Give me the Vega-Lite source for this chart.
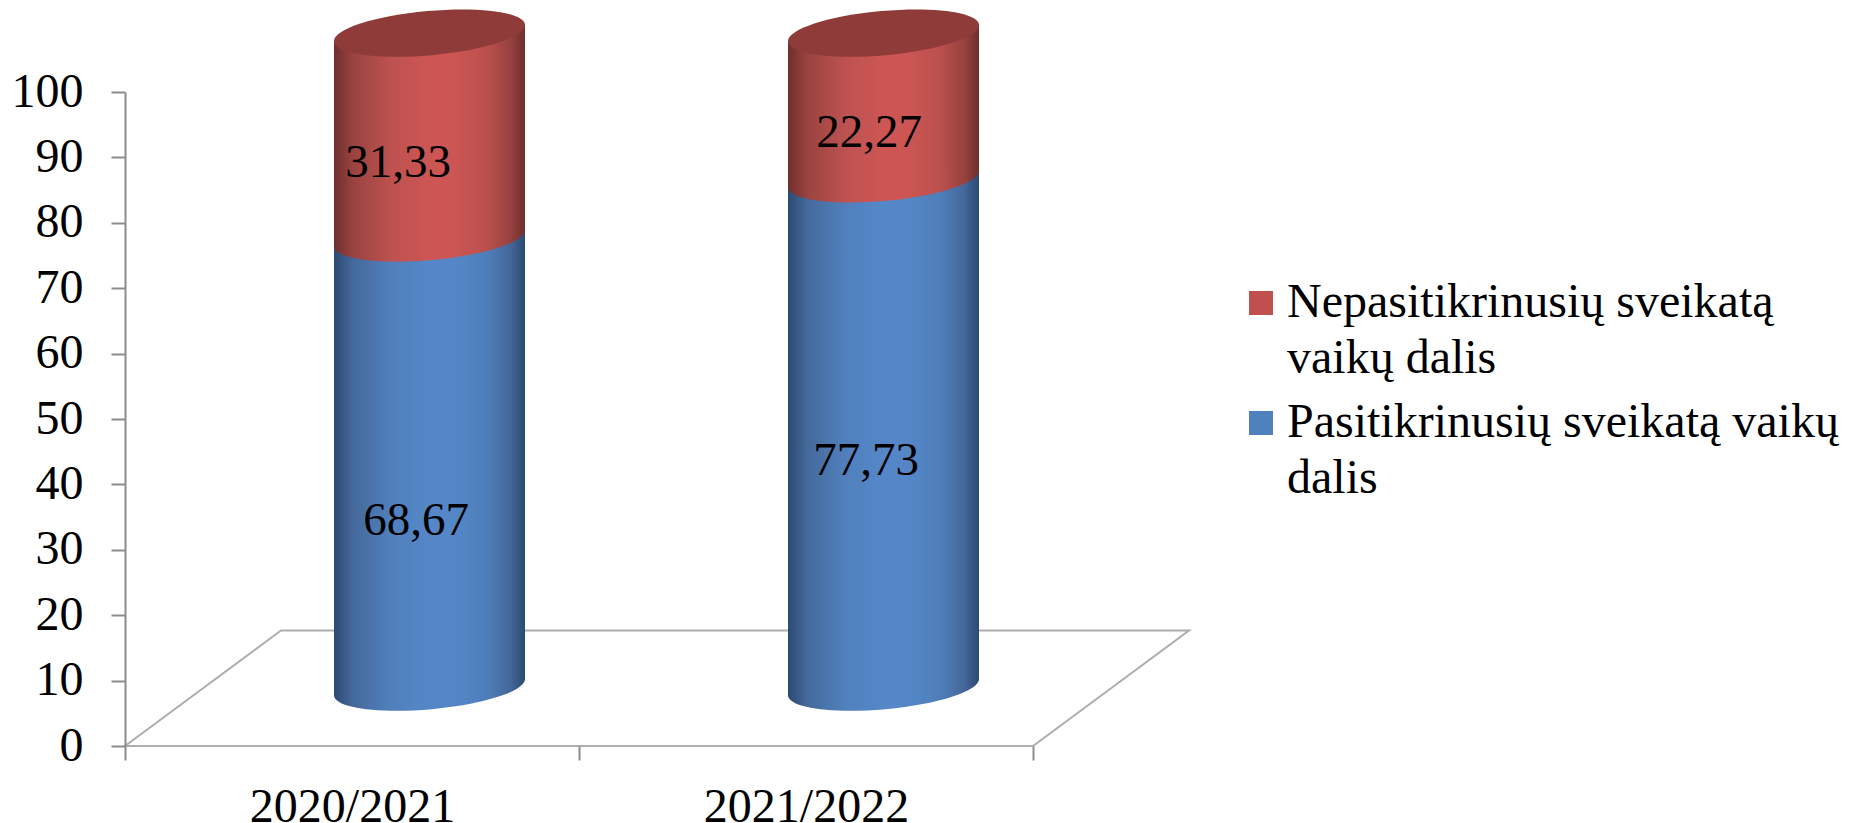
{
"$schema":"https://vega.github.io/schema/vega-lite/v6.json",
"width":908,"height":654,
"autosize":{"type":"none"},
"padding":{"left":125,"top":92,"right":816,"bottom":77},
"background":"white",
"data":{"values":[
{"year":"2020/2021","series":"Pasitikrinusių sveikatą vaikų dalis","order":1,"value":68.67,"label":"68,67"},
{"year":"2020/2021","series":"Nepasitikrinusių sveikatą vaikų dalis","order":2,"value":31.33,"label":"31,33"},
{"year":"2021/2022","series":"Pasitikrinusių sveikatą vaikų dalis","order":1,"value":77.73,"label":"77,73"},
{"year":"2021/2022","series":"Nepasitikrinusių sveikatą vaikų dalis","order":2,"value":22.27,"label":"22,27"}
]},
"transform":[{"stack":"value","groupby":["year"],"sort":[{"field":"order","order":"ascending"}],"as":["v0","v1"]}],
"config":{"view":{"stroke":null},"font":"Liberation Serif","style":{"guide-label":{"lineHeight":56}}},
"encoding":{"x":{"field":"year","type":"nominal","sort":null,"scale":{"paddingInner":0,"paddingOuter":0},
 "axis":{"title":null,"labelAngle":0,"labelFont":"Liberation Serif","labelFontSize":48,"labelColor":"#000000","labelPadding":23,"labelLimit":500,"domain":false,"ticks":true,"tickBand":"extent","tickColor":"#8c8c8c","tickWidth":2,"tickSize":14,"grid":false}}},
"layer":[
{"mark":{"type":"point","filled":false,"stroke":"#8c8c8c","strokeWidth":2,"size":40000,"shape":"M-2.27,0 L-0.71,-1.155 L8.37,-1.155 L6.81,0 Z"},
 "transform":[{"filter":"datum.year==='2020/2021' && datum.order===1"}],
 "encoding":{"y":{"datum":0,"type":"quantitative","scale":{"domain":[0,100]},
  "axis":{"title":null,"values":[0,10,20,30,40,50,60,70,80,90,100],"labelFont":"Liberation Serif","labelFontSize":48,"labelColor":"#000000","labelPadding":28,"domainColor":"#8c8c8c","domainWidth":2,"tickColor":"#8c8c8c","tickWidth":2,"tickSize":14,"grid":false}}}},
{"layer":[
 {"transform":[{"filter":"datum.order===1"}],"mark":{"type":"point","filled":true,"opacity":1,"size":36481,"xOffset":77.5,"shape":"M-1,-0.11 L1,-0.11 L1,-0.09 A1.004,0.232 -5.1 0 1 -1,0.09 Z","fill":{"x1":0,"x2":1,"y1":0,"y2":0,"gradient":"linear","stops":[{"offset":0,"color":"#2c4a72"},{"offset":0.1,"color":"#45699b"},{"offset":0.3,"color":"#5080bc"},{"offset":0.5,"color":"#5587c8"},{"offset":0.62,"color":"#5587c8"},{"offset":0.8,"color":"#4e7eb9"},{"offset":0.92,"color":"#44689a"},{"offset":1,"color":"#2c4a72"}]}},
  "encoding":{"y":{"field":"v0","type":"quantitative","scale":{"domain":[-9,91]},"axis":null}}},
 {"transform":[{"filter":"datum.order===1"}],"mark":{"type":"bar","width":191,"xOffset":77.5,"yOffset":-8.5,"y2Offset":-8.5,"fill":{"x1":0,"x2":1,"y1":0,"y2":0,"gradient":"linear","stops":[{"offset":0,"color":"#2c4a72"},{"offset":0.1,"color":"#45699b"},{"offset":0.3,"color":"#5080bc"},{"offset":0.5,"color":"#5587c8"},{"offset":0.62,"color":"#5587c8"},{"offset":0.8,"color":"#4e7eb9"},{"offset":0.92,"color":"#44689a"},{"offset":1,"color":"#2c4a72"}]}},
  "encoding":{"y":{"field":"v1","type":"quantitative","scale":{"domain":[-9,91]},"axis":null},"y2":{"field":"v0"}}},
 {"transform":[{"filter":"datum.order===2"}],"mark":{"type":"bar","width":191,"xOffset":77.5,"yOffset":8.5,"y2Offset":-8.5,"fill":{"x1":0,"x2":1,"y1":0,"y2":0,"gradient":"linear","stops":[{"offset":0,"color":"#6e2f2d"},{"offset":0.1,"color":"#9a4340"},{"offset":0.3,"color":"#bd5250"},{"offset":0.5,"color":"#cd5654"},{"offset":0.62,"color":"#cd5654"},{"offset":0.8,"color":"#ba504d"},{"offset":0.92,"color":"#994240"},{"offset":1,"color":"#6e2f2d"}]}},
  "encoding":{"y":{"field":"v1","type":"quantitative","scale":{"domain":[-9,91]},"axis":null},"y2":{"field":"v0"}}},
 {"transform":[{"filter":"datum.order===2"}],"mark":{"type":"point","filled":true,"opacity":1,"size":36481,"xOffset":77.5,"shape":"M-1,-0.11 L1,-0.11 L1,-0.09 A1.004,0.232 -5.1 0 1 -1,0.09 Z","fill":{"x1":0,"x2":1,"y1":0,"y2":0,"gradient":"linear","stops":[{"offset":0,"color":"#6e2f2d"},{"offset":0.1,"color":"#9a4340"},{"offset":0.3,"color":"#bd5250"},{"offset":0.5,"color":"#cd5654"},{"offset":0.62,"color":"#cd5654"},{"offset":0.8,"color":"#ba504d"},{"offset":0.92,"color":"#994240"},{"offset":1,"color":"#6e2f2d"}]}},
  "encoding":{"y":{"field":"v0","type":"quantitative","scale":{"domain":[-9,91]},"axis":null}}},
 {"transform":[{"filter":"datum.order===2"}],"mark":{"type":"point","filled":true,"opacity":1,"size":36481,"xOffset":77.5,"shape":"M-1,0.11 L1,0.11 L1,-0.09 L-1,0.09 Z","fill":{"x1":0,"x2":1,"y1":0,"y2":0,"gradient":"linear","stops":[{"offset":0,"color":"#6e2f2d"},{"offset":0.1,"color":"#9a4340"},{"offset":0.3,"color":"#bd5250"},{"offset":0.5,"color":"#cd5654"},{"offset":0.62,"color":"#cd5654"},{"offset":0.8,"color":"#ba504d"},{"offset":0.92,"color":"#994240"},{"offset":1,"color":"#6e2f2d"}]}},
  "encoding":{"y":{"field":"v1","type":"quantitative","scale":{"domain":[-9,91]},"axis":null}}},
 {"transform":[{"filter":"datum.order===2"}],"mark":{"type":"point","filled":true,"opacity":1,"size":36481,"xOffset":77.5,"fill":"#8e3b39","shape":"M-1,0.09 A1.004,0.232 -5.1 1 1 1,-0.09 A1.004,0.232 -5.1 1 1 -1,0.09 Z"},
  "encoding":{"y":{"field":"v1","type":"quantitative","scale":{"domain":[-9,91]},"axis":null}}},
 {"transform":[{"filter":"datum.series==='never'"}],"mark":{"type":"square"},
  "encoding":{"y":{"field":"v1","type":"quantitative","scale":{"domain":[-9,91]},"axis":null},
   "color":{"field":"series","type":"nominal","scale":{"domain":["Nepasitikrinusių sveikatą vaikų dalis","Pasitikrinusių sveikatą vaikų dalis"],"range":["#c0504d","#4f81bd"]},
    "legend":{"title":null,"orient":"none","legendX":1112,"legendY":187,"symbolType":"square","symbolSize":576,"symbolStrokeWidth":0,"symbolOpacity":1,"labelFont":"Liberation Serif","labelFontSize":48,"labelColor":"#000000","labelLimit":700,"labelOffset":2,"rowPadding":16,"labelExpr":"datum.label==='Nepasitikrinusių sveikatą vaikų dalis'?['Nepasitikrinusių sveikatą','vaikų dalis']:['Pasitikrinusių sveikatą vaikų','dalis']"}}}},
 {"transform":[{"filter":"datum.year==='2020/2021' && datum.order===2"}],"mark":{"type":"text","font":"Liberation Serif","fontSize":47,"color":"#000000","dx":46,"dy":129.5},
  "encoding":{"y":{"field":"v1","type":"quantitative","scale":{"domain":[-9,91]},"axis":null},"text":{"field":"label","type":"nominal"}}},
 {"transform":[{"filter":"datum.year==='2021/2022' && datum.order===2"}],"mark":{"type":"text","font":"Liberation Serif","fontSize":47,"color":"#000000","dx":63,"dy":99.5},
  "encoding":{"y":{"field":"v1","type":"quantitative","scale":{"domain":[-9,91]},"axis":null},"text":{"field":"label","type":"nominal"}}},
 {"transform":[{"filter":"datum.year==='2020/2021' && datum.order===1"}],"mark":{"type":"text","font":"Liberation Serif","fontSize":47,"color":"#000000","dx":64,"dy":-166.5},
  "encoding":{"y":{"field":"v0","type":"quantitative","scale":{"domain":[-9,91]},"axis":null},"text":{"field":"label","type":"nominal"}}},
 {"transform":[{"filter":"datum.year==='2021/2022' && datum.order===1"}],"mark":{"type":"text","font":"Liberation Serif","fontSize":47,"color":"#000000","dx":60,"dy":-226.5},
  "encoding":{"y":{"field":"v0","type":"quantitative","scale":{"domain":[-9,91]},"axis":null},"text":{"field":"label","type":"nominal"}}}
],"resolve":{"scale":{"y":"shared"}}}
],
"resolve":{"scale":{"y":"independent"}}
}
